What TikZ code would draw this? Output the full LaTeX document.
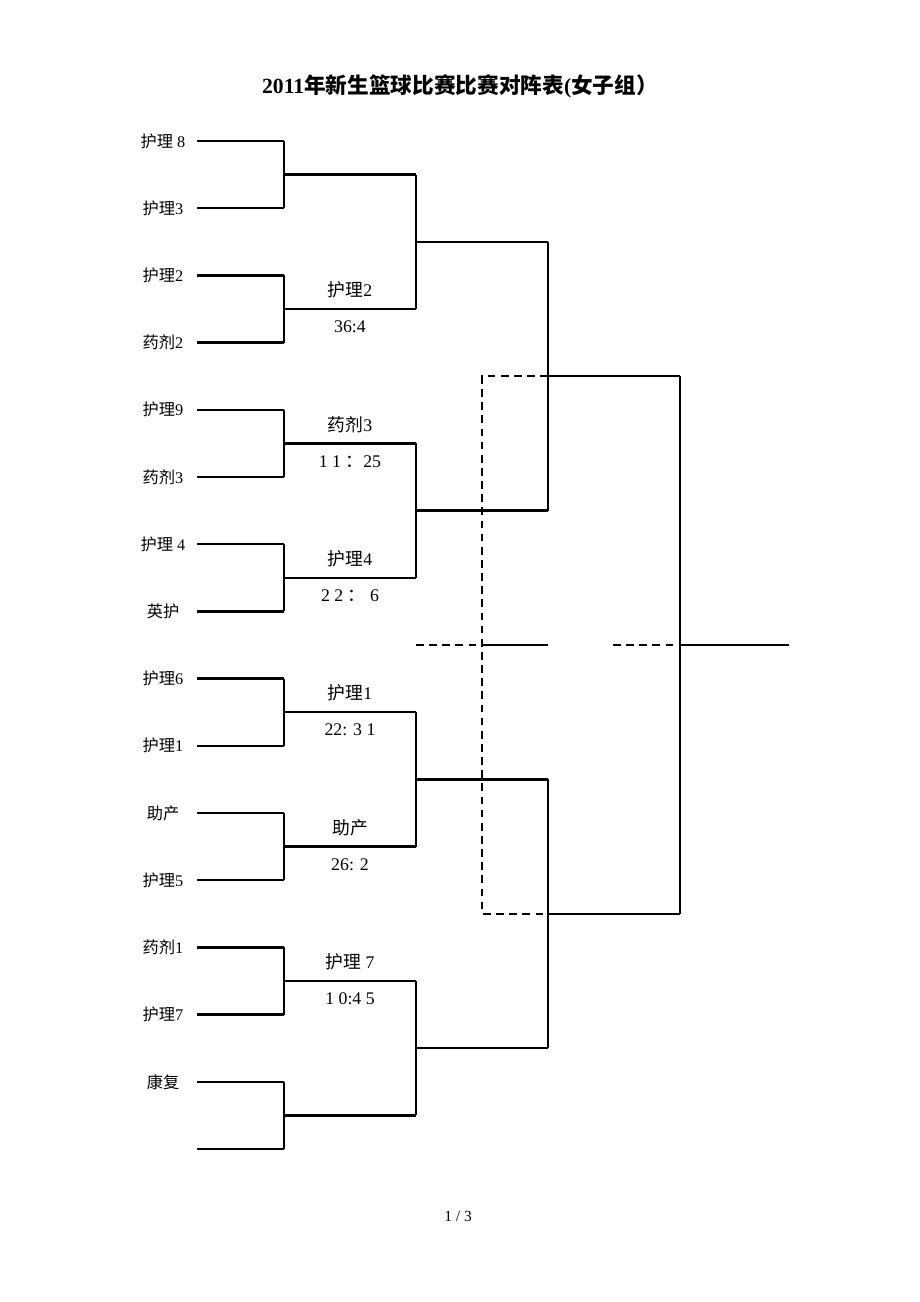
\documentclass[tikz,border=0pt]{standalone}
\usepackage{fontspec}
\setmainfont{Liberation Serif}
\newfontfamily\cjk{Noto Sans CJK SC}
\newcommand{\zhs}[1]{{\cjk #1}}
\usetikzlibrary{calc}
\tikzset{
  bline/.style={line width=1.5pt},
  dline/.style={line width=1.5pt, dash pattern=on 5pt off 3.5pt},
  team/.style={font=\fontsize{10.5}{12}\selectfont, inner sep=0pt},
  res/.style={font=\fontsize{11.5}{13}\selectfont, inner sep=0pt},
}

\begin{document}
\begin{tikzpicture}[x=0.6467pt, y=-0.6467pt]
\useasboundingbox (0,0) rectangle (920,1302);

\node[font=\fontsize{14}{16}\selectfont\bfseries] (title) at (460,86)
  {2011\zhs{年新生篮球比赛比赛对阵表}(\zhs{女子组）}};
\node[font=\fontsize{10}{12}\selectfont] (page) at (458,1216) {1 / 3};

% teams
\foreach \lab [count=\n] in {\zhs{护理} 8,\zhs{护理}3,\zhs{护理}2,\zhs{药剂}2,
  \zhs{护理}9,\zhs{药剂}3,\zhs{护理} 4,\zhs{英护},
  \zhs{护理}6,\zhs{护理}1,\zhs{助产},\zhs{护理}5,
  \zhs{药剂}1,\zhs{护理}7,\zhs{康复},{}}{
  \pgfmathsetmacro\yy{141+(\n-1)*67.2}
  \node[team] (t\n) at (163,\yy) {\lab};
  \coordinate (a\n) at (197,\yy);
  \coordinate (b\n) at (284,\yy);
  \draw[bline] (a\n) -- (b\n);
}

% round 1
\foreach \k in {1,...,8}{
  \pgfmathtruncatemacro\i{2*\k-1}
  \pgfmathtruncatemacro\j{2*\k}
  \draw[bline] (b\i) -- (b\j);
  \coordinate (p\k) at ($(b\i)!0.5!(b\j)$);
  \coordinate (q\k) at ($(p\k)+(132,0)$);
  \draw[bline] (p\k) -- (q\k);
}

% round 2
\foreach \k in {1,...,4}{
  \pgfmathtruncatemacro\i{2*\k-1}
  \pgfmathtruncatemacro\j{2*\k}
  \draw[bline] (q\i) -- (q\j);
  \coordinate (r\k) at ($(q\i)!0.5!(q\j)$);
  \coordinate (s\k) at ($(r\k)+(132,0)$);
  \draw[bline] (r\k) -- (s\k);
}

% semi
\foreach \k in {1,2}{
  \pgfmathtruncatemacro\i{2*\k-1}
  \pgfmathtruncatemacro\j{2*\k}
  \draw[bline] (s\i) -- (s\j);
  \coordinate (u\k) at ($(s\i)!0.5!(s\j)$);
  \coordinate (v\k) at ($(u\k)+(132,0)$);
  \draw[bline] (u\k) -- (v\k);
}

% final
\draw[bline] (v1) -- (v2);
\coordinate (w) at ($(v1)!0.5!(v2)$);
\coordinate (champ) at ($(w)+(109,0)$);
\coordinate (wd) at ($(w)+(-67,0)$);
\draw[bline] (w) -- (champ);
\draw[dline] (wd) -- (w);

% third place
\coordinate (d1) at ($(u1)+(-66,0)$);
\coordinate (d2) at ($(u2)+(-66,0)$);
\coordinate (dm) at ($(d1)!0.5!(d2)$);
\coordinate (dl) at ($(dm)+(-66,0)$);
\coordinate (dr) at ($(dm)+(66,0)$);
\draw[dline] (u1) -- (d1) -- (d2) -- (u2);
\draw[dline] (dl) -- (dm);
\draw[bline] (dm) -- (dr);

% results
\foreach \k/\win/\sc in {2/\zhs{护理}2/36:4,
  3/\zhs{药剂}3/1 1 \zhs{：}25,
  4/\zhs{护理}4/2 2 \zhs{：} 6,
  5/\zhs{护理}1/22: 3 1,
  6/\zhs{助产}/26: 2,
  7/\zhs{护理} 7/1 0:4 5}{
  \node[res] (win\k) at ($(p\k)!0.5!(q\k)+(0,-19)$) {\win};
  \node[res] (sc\k) at ($(p\k)!0.5!(q\k)+(0,18)$) {\sc};
}
\end{tikzpicture}
\end{document}
